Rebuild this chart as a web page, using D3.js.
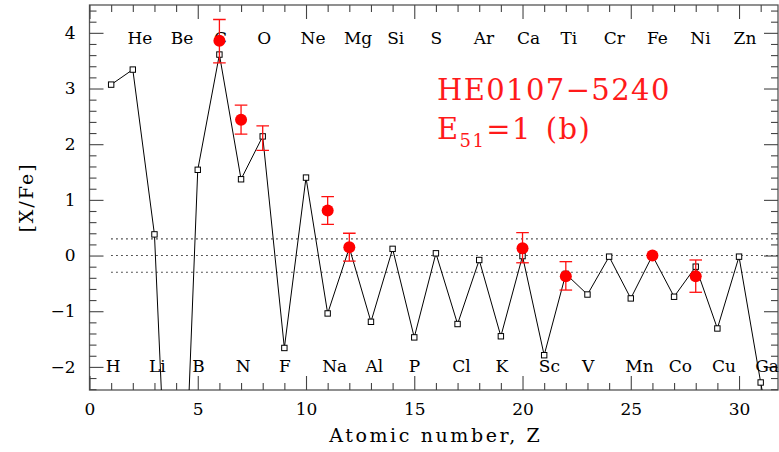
<!DOCTYPE html>
<html>
<head>
<meta charset="utf-8">
<script src="https://cdn.jsdelivr.net/npm/d3@7/dist/d3.min.js"></script>
<style>
  html, body { margin: 0; padding: 0; background: #fff; }
  svg { display: block; }
  text { font-family: "DejaVu Serif", serif; }
</style>
</head>
<body>
<svg id="chart" width="779" height="452"></svg>
<script>
// Model yields, [X/Fe] by atomic number Z (H .. Ge)
const modelZ = [1, 2, 3, 4, 5, 6, 7, 8, 9, 10, 11, 12, 13, 14, 15, 16,
  17, 18, 19, 20, 21, 22, 23, 24, 25, 26, 27, 28, 29, 30, 31, 32];
const modelVal = [3.07, 3.34, 0.38, -8.4, 1.54, 3.61, 1.37, 2.14, -1.66, 1.40,
  -1.04, 0.14, -1.19, 0.12, -1.47, 0.04, -1.23, -0.08, -1.45, -0.01,
  -1.79, -0.33, -0.70, -0.02, -0.77, 0.0, -0.74, -0.20, -1.31, -0.02, -2.28, -4.4];

// Observed abundances of HE0107-5240 with error ranges
const obsZ = [6, 7, 8, 11, 12, 20, 22, 26, 28];
const obsVal = [3.86, 2.44, 2.11, 0.81, 0.15, 0.13, -0.37, 0.0, -0.37];
const obsLo = [3.46, 2.18, 1.89, 0.56, -0.10, -0.13, -0.62, null, -0.66];
const obsHi = [4.24, 2.70, 2.33, 1.06, 0.40, 0.41, -0.11, null, -0.08];
const obsDot = [true, true, false, true, true, true, true, true, true];

// Element symbols: even Z along the top, odd Z along the bottom
const topZ = [2, 4, 6, 8, 10, 12, 14, 16, 18, 20, 22, 24, 26, 28, 30];
const topSym = ["He", "Be", "C", "O", "Ne", "Mg", "Si", "S", "Ar", "Ca", "Ti", "Cr", "Fe", "Ni", "Zn"];
const botZ = [1, 3, 5, 7, 9, 11, 13, 15, 17, 19, 21, 23, 25, 27, 29, 31];
const botSym = ["H", "Li", "B", "N", "F", "Na", "Al", "P", "Cl", "K", "Sc", "V", "Mn", "Co", "Cu", "Ga"];

// Reference levels (solar and +/-0.3 dex)
const refLevels = [0.3, 0, -0.3];

const xMajor = [0, 5, 10, 15, 20, 25, 30];
const yMajor = [-2, -1, 0, 1, 2, 3, 4];

const svg = d3.select("#chart");
const L = 89.5, R = 778, T = 5, B = 390;

const x = d3.scaleLinear().domain([0, 31.8]).range([L, R]);
const y = d3.scaleLinear().domain([-2.415, 4.5]).range([B, T]);

const minus = s => String(s).replace("-", "\u2212");

svg.append("defs").append("clipPath").attr("id", "plotclip")
  .append("rect").attr("x", L).attr("y", T).attr("width", R - L).attr("height", B - T);

// Frame
svg.append("rect").attr("x", L).attr("y", T).attr("width", R - L).attr("height", B - T)
  .attr("fill", "none").attr("stroke", "#555").attr("stroke-width", 1.3);

const axisColor = "#444";
function styleAxis(g) {
  g.select(".domain").remove();
  g.selectAll(".tick line").attr("stroke", axisColor).attr("stroke-width", 1.1);
  g.selectAll(".tick text").attr("fill", "#000").style("font-size", "17px")
    .style("font-family", "DejaVu Serif, serif");
}

const xMinor = d3.range(0, 32, 1).filter(v => v % 5 !== 0);
const yMinor = d3.range(-2.4, 4.5, 0.2).map(v => Math.round(v * 10) / 10)
  .filter(v => Math.abs(v - Math.round(v)) > 1e-6);

// Bottom axis
svg.append("g").attr("transform", `translate(0,${B})`)
  .call(d3.axisBottom(x).tickValues(xMajor).tickSize(-14).tickSizeOuter(0).tickPadding(13)
    .tickFormat(d3.format("d")))
  .call(styleAxis);
svg.append("g").attr("transform", `translate(0,${B})`)
  .call(d3.axisBottom(x).tickValues(xMinor).tickSize(-7).tickSizeOuter(0).tickFormat(""))
  .call(styleAxis);
// Top axis
svg.append("g").attr("transform", `translate(0,${T})`)
  .call(d3.axisTop(x).tickValues(xMajor).tickSize(-14).tickSizeOuter(0).tickFormat(""))
  .call(styleAxis);
svg.append("g").attr("transform", `translate(0,${T})`)
  .call(d3.axisTop(x).tickValues(xMinor).tickSize(-7).tickSizeOuter(0).tickFormat(""))
  .call(styleAxis);
// Left axis
svg.append("g").attr("transform", `translate(${L},0)`)
  .call(d3.axisLeft(y).tickValues(yMajor).tickSize(-14).tickSizeOuter(0).tickPadding(14)
    .tickFormat(d => minus(d)))
  .call(styleAxis);
svg.append("g").attr("transform", `translate(${L},0)`)
  .call(d3.axisLeft(y).tickValues(yMinor).tickSize(-7).tickSizeOuter(0).tickFormat(""))
  .call(styleAxis);
// Right axis
svg.append("g").attr("transform", `translate(${R},0)`)
  .call(d3.axisRight(y).tickValues(yMajor).tickSize(-14).tickSizeOuter(0).tickFormat(""))
  .call(styleAxis);
svg.append("g").attr("transform", `translate(${R},0)`)
  .call(d3.axisRight(y).tickValues(yMinor).tickSize(-7).tickSizeOuter(0).tickFormat(""))
  .call(styleAxis);

// Axis titles
svg.append("text").attr("x", (L + R) / 2 + 2).attr("y", 442).attr("text-anchor", "middle")
  .style("font-size", "19px").style("letter-spacing", "2.6px").text("Atomic number, Z");
svg.append("text").attr("transform", `translate(33,${(T + B) / 2}) rotate(-90)`)
  .attr("text-anchor", "middle").style("font-size", "19px").style("letter-spacing", "2px")
  .text("[X/Fe]");

// Element labels
svg.append("g").selectAll("text").data(topZ).join("text")
  .attr("x", d => x(d - 0.25)).attr("y", 44)
  .style("font-size", "17px").text((d, i) => topSym[i]);
svg.append("g").selectAll("text").data(botZ).join("text")
  .attr("x", d => x(d - 0.25)).attr("y", 371.5)
  .style("font-size", "17px").text((d, i) => botSym[i]);

const plot = svg.append("g").attr("clip-path", "url(#plotclip)");

// Reference dotted lines
plot.selectAll("line.ref").data(refLevels).join("line").attr("class", "ref")
  .attr("x1", x(1)).attr("x2", R).attr("y1", d => y(d)).attr("y2", d => y(d))
  .attr("stroke", "#333").attr("stroke-width", 1.1).attr("stroke-dasharray", "1.6 3.4");

// Model line and squares
const model = modelZ.map((z, i) => [z, modelVal[i]]);
plot.append("path").datum(model)
  .attr("d", d3.line().x(d => x(d[0])).y(d => y(d[1])))
  .attr("fill", "none").attr("stroke", "#000").attr("stroke-width", 1);
plot.selectAll("rect.sq").data(model).join("rect").attr("class", "sq")
  .attr("x", d => x(d[0]) - 2.7).attr("y", d => y(d[1]) - 2.7)
  .attr("width", 5.4).attr("height", 5.4)
  .attr("fill", "#fff").attr("stroke", "#000").attr("stroke-width", 1);

// Observed points with error bars
const obs = obsZ.map((z, i) => ({ z, v: obsVal[i], lo: obsLo[i], hi: obsHi[i], dot: obsDot[i] }));
const withErr = obs.filter(d => d.lo !== null);
const eg = plot.append("g").attr("stroke", "#ff1010").attr("stroke-width", 1.3);
eg.selectAll("line.bar").data(withErr).join("line").attr("class", "bar")
  .attr("x1", d => x(d.z)).attr("x2", d => x(d.z)).attr("y1", d => y(d.lo)).attr("y2", d => y(d.hi));
eg.selectAll("line.capLo").data(withErr).join("line").attr("class", "capLo")
  .attr("x1", d => x(d.z) - 6.3).attr("x2", d => x(d.z) + 6.3)
  .attr("y1", d => y(d.lo)).attr("y2", d => y(d.lo));
eg.selectAll("line.capHi").data(withErr).join("line").attr("class", "capHi")
  .attr("x1", d => x(d.z) - 6.3).attr("x2", d => x(d.z) + 6.3)
  .attr("y1", d => y(d.hi)).attr("y2", d => y(d.hi));
plot.selectAll("circle.obs").data(obs.filter(d => d.dot)).join("circle").attr("class", "obs")
  .attr("cx", d => x(d.z)).attr("cy", d => y(d.v)).attr("r", 6)
  .attr("fill", "#ff0000");

// Star name and model label
const red = "#ff1a1a";
svg.append("text").attr("x", 437).attr("y", 99.5).attr("fill", red)
  .style("font-size", "29px").style("letter-spacing", "1.4px").text("HE0107\u22125240");
const lab = svg.append("text").attr("x", 437).attr("y", 139).attr("fill", red)
  .style("font-size", "29px").style("letter-spacing", "1.4px");
lab.append("tspan").text("E");
lab.append("tspan").attr("dy", 8).style("font-size", "18px").text("51");
lab.append("tspan").attr("dy", -8).attr("dx", 1).text("=1");
lab.append("tspan").attr("dx", 14).text("(b)");
</script>
</body>
</html>
